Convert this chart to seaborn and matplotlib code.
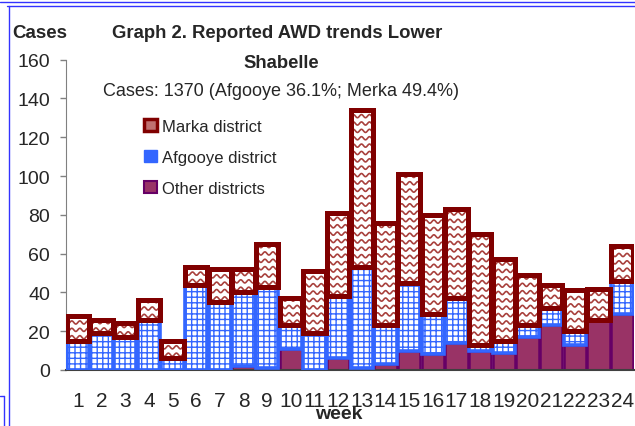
import numpy as np
import pandas as pd
import seaborn as sns
import matplotlib.pyplot as plt
from matplotlib.patches import Patch
from matplotlib.lines import Line2D
from matplotlib.collections import LineCollection

sns.set_style("white")
plt.rcParams['font.family'] = ['Liberation Sans', 'DejaVu Sans']
plt.rcParams['hatch.linewidth'] = 1.0

# weekly AWD cases
weeks = [str(w) for w in range(1, 25)]
other = [0, 0, 0, 0, 0, 0, 0, 2, 1, 11, 0, 6, 1, 3, 10, 8, 14, 10, 9, 17, 23, 13, 26, 29]
afgooye = [15, 19, 17, 26, 6, 44, 35, 38, 42, 12, 19, 32, 52, 20, 35, 21, 23, 3, 6, 6, 9, 7, 0, 17]
marka = [13, 7, 7, 10, 9, 9, 17, 12, 22, 14, 32, 43, 81, 53, 56, 51, 46, 57, 42, 26, 12, 21, 16, 18]

df = pd.DataFrame({"week": weeks, "other": other, "afgooye": afgooye, "marka": marka})
afg_base = df["other"].to_numpy()
marka_base = (df["other"] + df["afgooye"]).to_numpy()

W, H = 635, 427
fig = plt.figure(figsize=(W / 100, H / 100), dpi=100)
ax = fig.add_axes([66 / W, 1 - 371 / H, 568 / W, (371 - 60.7) / H])

MAROON = "#800000"
BLUE = "#3366ff"

sns.barplot(data=df, x="week", y="other", color="#993366", edgecolor="#660066",
            linewidth=1.8, width=0.95, saturation=1, errorbar=None, ax=ax, zorder=2)
sns.barplot(data=df, x="week", y="afgooye", bottom=afg_base, color="white",
            edgecolor=BLUE, hatch="+++", linewidth=2.6, width=0.95, saturation=1,
            errorbar=None, ax=ax, zorder=3)
n_before = len(ax.patches)
sns.barplot(data=df, x="week", y="marka", bottom=marka_base, color="white",
            edgecolor=MAROON, linewidth=3.6, width=0.95, saturation=1,
            errorbar=None, ax=ax, zorder=4)

# wavy fill for the Marka bars, clipped to each bar
period, amp, step = 0.34, 0.8, 3.8
for p in ax.patches[n_before:]:
    p.set_facecolor("none")
    p.set_zorder(5)
    x0, y0 = p.get_xy()
    w, h = p.get_width(), p.get_height()
    if h <= 0:
        continue
    xs = np.linspace(x0, x0 + w, 80)
    segs = []
    for base in np.arange(y0 + step / 2, y0 + h + step, step):
        ys = base + amp * np.sin(2 * np.pi * xs / period)
        segs.append(np.column_stack([xs, ys]))
    lc = LineCollection(segs, colors="#a8403c", linewidths=1.2, zorder=4.5)
    ax.add_collection(lc)
    lc.set_clip_path(p)

ax.set_ylim(0, 160)
ax.set_xlim(-0.5, 23.5)
ax.set_yticks(range(0, 161, 20))
ax.set_xlabel("")
ax.set_ylabel("")
ax.set_xticks(range(24))
ax.set_xticklabels(weeks)
ax.set_xticks(np.arange(-0.5, 24, 1), minor=True)
ax.tick_params(axis="x", which="major", length=0, pad=15, labelsize=15)
ax.tick_params(axis="x", which="minor", length=4.5, color="#404040", width=1, direction="out")
ax.tick_params(axis="y", length=4.5, color="#808080", width=1, pad=7, labelsize=14, left=True)
for s in ["top", "right"]:
    ax.spines[s].set_visible(False)
ax.spines["left"].set_color("#808080")
ax.spines["bottom"].set_color("#404040")
ax.spines["bottom"].set_linewidth(1.5)
ax.grid(False)


def ftext(x, y, s, **kw):
    fig.text(x / W, 1 - y / H, s, **kw)


ftext(12, 38, "Cases", fontsize=13.5, fontweight="bold", ha="left", va="baseline")
ftext(277.5, 37.5, "Graph 2. Reported AWD trends Lower", fontsize=13.3, fontweight="bold",
      ha="center", va="baseline")
ftext(281, 68, "Shabelle", fontsize=13.3, fontweight="bold", ha="center", va="baseline")
ftext(281, 96, "Cases: 1370 (Afgooye 36.1%; Merka 49.4%)", fontsize=13,
      ha="center", va="baseline")
ftext(339, 419, "week", fontsize=14, fontweight="bold", ha="center", va="baseline")

handles = [
    Patch(facecolor="#c07070", edgecolor=MAROON, linewidth=2.5),
    Patch(facecolor=BLUE, edgecolor=BLUE, hatch="+", linewidth=1),
    Patch(facecolor="#993366", edgecolor="#660066", linewidth=1.5),
]
labels = ["Marka district", "Afgooye district", "Other districts"]
fig.legend(handles, labels, loc="upper left", bbox_to_anchor=(144 / W, 1 - 120 / H),
           frameon=False, fontsize=12, handlelength=0.75, handleheight=0.75,
           handletextpad=0.35, labelspacing=0.95, borderpad=0, borderaxespad=0)

# page frame lines around the chart
for xs, ys in [((0, W), (3, 3)), ((7, W), (7, 7)), ((9, 9), (7, H)),
               ((0, 4), (397, 397)), ((4, 4), (397, H))]:
    fig.add_artist(Line2D([x / W for x in xs], [1 - y / H for y in ys],
                          color="#3333ff", linewidth=1))

fig.savefig("out.png", dpi=100)
